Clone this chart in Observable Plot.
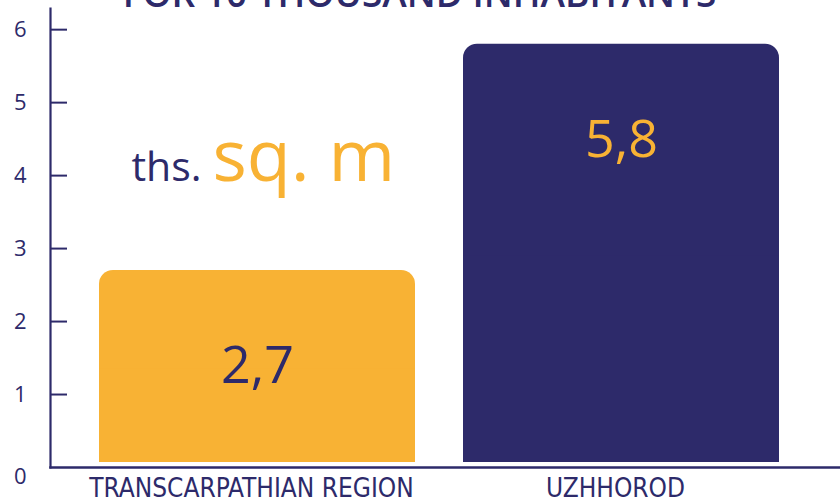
<!DOCTYPE html>
<html><head><meta charset="utf-8">
<script src="https://cdn.jsdelivr.net/npm/d3@7"></script>
<script src="https://cdn.jsdelivr.net/npm/@observablehq/plot@0.6"></script>
<style>body{margin:0;background:#fff}</style>
</head><body><div id="chart"></div>
<script>
const categories = ["TRANSCARPATHIAN REGION", "UZHHOROD"];
const values = [2.7, 5.8];
const valueLabels = ["2,7", "5,8"];
const yTicks = [1, 2, 3, 4, 5, 6];
const zeroTick = [0];
const title = "FOR 10 THOUSAND INHABITANTS";
const unitSmall = "ths.";
const unitLarge = "sq. m";

const NAVY = "#2D2A6A";
const ORANGE = "#F8B234";
const barColors = [ORANGE, NAVY];
const labelColors = [NAVY, ORANGE];

const data = categories.map((c, i) => ({cat: c, value: values[i], label: valueLabels[i], bar: barColors[i], ink: labelColors[i]}));
const font = "'Open Sans', 'Noto Sans', sans-serif";
const intFmt = d3.format("d");

const chart = Plot.plot({
  width: 840,
  height: 497,
  marginLeft: 50,
  marginRight: 0,
  marginTop: 8,
  marginBottom: 30,
  style: {color: NAVY, background: "#fff", fontFamily: font, overflow: "visible"},
  x: {domain: categories, paddingInner: 0.133, paddingOuter: 0.15, align: 0.447, axis: null, label: null},
  y: {domain: [0, 6.29], axis: null, label: null},
  marks: [
    Plot.barY(data, {x: "cat", y: "value", fill: "bar", rx: 14, insetBottom: 5}),
    Plot.barY(data, {x: "cat", y: d => d.value / 2, fill: "bar", insetBottom: 5}),
    Plot.frame({anchor: "left", stroke: NAVY, strokeWidth: 2.2}),
    Plot.frame({anchor: "bottom", stroke: NAVY, strokeWidth: 2.5}),
    Plot.axisY({ticks: yTicks, tickSize: -17, strokeWidth: 2, tickFormat: () => "", label: null}),
    Plot.text(yTicks, {y: d => d, text: intFmt, frameAnchor: "left", textAnchor: "end", dx: -24, fill: NAVY, fontSize: 22, fontFamily: font}),
    Plot.text(zeroTick, {y: d => d, text: intFmt, frameAnchor: "left", textAnchor: "end", dx: -24, dy: 9, fill: NAVY, fontSize: 22, fontFamily: font}),
    Plot.axisX({tickSize: 0, tickPadding: 11, dx: -6, label: null, fontSize: 26, fontFamily: "'Liberation Sans Narrow', 'DejaVu Sans Condensed', sans-serif", fill: NAVY}),
    Plot.text(data, {x: "cat", y: "value", text: "label", fill: "ink", lineAnchor: "bottom", dy: 113, fontSize: 52, fontFamily: font}),
    Plot.text([unitSmall], {x: () => categories[0], y: () => values[0], text: d => d, fill: NAVY, textAnchor: "end", lineAnchor: "bottom", dx: -56, dy: -89, fontSize: 41, fontFamily: font}),
    Plot.text([unitLarge], {x: () => categories[0], y: () => values[0], text: d => d, fill: ORANGE, textAnchor: "start", lineAnchor: "bottom", dx: -45, dy: -89, fontSize: 72, fontFamily: font}),
    Plot.text([title], {frameAnchor: "top", lineAnchor: "bottom", dx: -26, dy: -2, text: d => d, fill: NAVY, fontSize: 37, fontWeight: 600, fontFamily: font})
  ]
});
document.getElementById("chart").appendChild(chart);
</script>
</body></html>
